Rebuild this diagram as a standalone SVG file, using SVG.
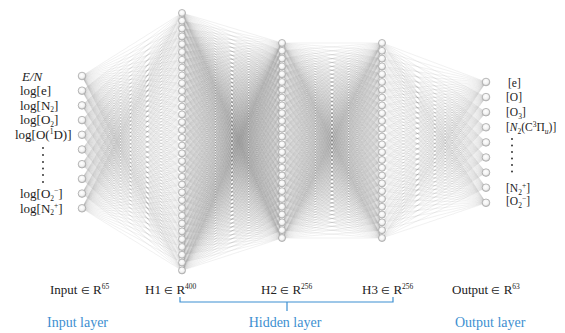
<svg xmlns="http://www.w3.org/2000/svg" xmlns:xlink="http://www.w3.org/1999/xlink" width="565" height="333" viewBox="0 0 565 333">
<style>
.ln{fill:none;stroke:#666;stroke-width:.6;stroke-opacity:.16;vector-effect:non-scaling-stroke}
.n{fill:url(#ng);stroke:#a8a8a8;stroke-width:.8}
.t{font-family:"Liberation Serif","Times New Roman",serif;font-size:13px;fill:#222}
.r{font-family:"Liberation Serif","Times New Roman",serif;font-size:11.5px;fill:#222}
.b{font-family:"Liberation Serif","Times New Roman",serif;font-size:13px;fill:#222}
.bl{font-family:"Liberation Serif","Times New Roman",serif;font-size:14px;fill:#3d8fd1}
.s{font-size:7.5px}
.i{font-style:italic}
.dot{fill:#222}
</style>
<defs>
<filter id="soft" x="0" y="0" width="1" height="1"><feGaussianBlur stdDeviation="0.4"/></filter>
<radialGradient id="ng" cx=".45" cy=".4" r=".6">
<stop offset="0" stop-color="#fff"/>
<stop offset=".6" stop-color="#f2f2f2"/>
<stop offset="1" stop-color="#c4c4c4"/>
</radialGradient>
<path id="f01" class="ln" d="M82 76 182 13M82 76 182 20.8M82 76 182 28.6M82 76 182 36.4M82 76 182 44.2M82 76 182 52M82 76 182 59.8M82 76 182 67.6M82 76 182 75.4M82 76 182 83.2M82 76 182 91M82 76 182 98.8M82 76 182 106.6M82 76 182 114.4M82 76 182 122.2M82 76 182 130M82 76 182 137.8M82 76 182 145.6M82 76 182 153.4M82 76 182 161.2M82 76 182 169M82 76 182 176.8M82 76 182 184.6M82 76 182 192.4M82 76 182 200.2M82 76 182 208M82 76 182 215.8M82 76 182 223.6M82 76 182 231.4M82 76 182 239.2M82 76 182 247M82 76 182 254.8M82 76 182 262.6M82 76 182 270.4"/>
<path id="f12" class="ln" d="M282 43 182 13M282 43 182 20.8M282 43 182 28.6M282 43 182 36.4M282 43 182 44.2M282 43 182 52M282 43 182 59.8M282 43 182 67.6M282 43 182 75.4M282 43 182 83.2M282 43 182 91M282 43 182 98.8M282 43 182 106.6M282 43 182 114.4M282 43 182 122.2M282 43 182 130M282 43 182 137.8M282 43 182 145.6M282 43 182 153.4M282 43 182 161.2M282 43 182 169M282 43 182 176.8M282 43 182 184.6M282 43 182 192.4M282 43 182 200.2M282 43 182 208M282 43 182 215.8M282 43 182 223.6M282 43 182 231.4M282 43 182 239.2M282 43 182 247M282 43 182 254.8M282 43 182 262.6M282 43 182 270.4"/>
<path id="f23" class="ln" d="M382 43 282 43M382 43 282 50.8M382 43 282 58.6M382 43 282 66.4M382 43 282 74.2M382 43 282 82M382 43 282 89.8M382 43 282 97.6M382 43 282 105.4M382 43 282 113.2M382 43 282 121M382 43 282 128.8M382 43 282 136.6M382 43 282 144.4M382 43 282 152.2M382 43 282 160M382 43 282 167.8M382 43 282 175.6M382 43 282 183.4M382 43 282 191.2M382 43 282 199M382 43 282 206.8M382 43 282 214.6M382 43 282 222.4M382 43 282 230.2M382 43 282 238"/>
<path id="f34" class="ln" d="M486 82 382 43M486 82 382 50.8M486 82 382 58.6M486 82 382 66.4M486 82 382 74.2M486 82 382 82M486 82 382 89.8M486 82 382 97.6M486 82 382 105.4M486 82 382 113.2M486 82 382 121M486 82 382 128.8M486 82 382 136.6M486 82 382 144.4M486 82 382 152.2M486 82 382 160M486 82 382 167.8M486 82 382 175.6M486 82 382 183.4M486 82 382 191.2M486 82 382 199M486 82 382 206.8M486 82 382 214.6M486 82 382 222.4M486 82 382 230.2M486 82 382 238"/>
</defs>
<rect width="565" height="333" fill="#fff"/>
<g id="connectors" filter="url(#soft)">
<rect x="70" y="5" width="430" height="275" fill="none"/>
<g id="c01">
<use href="#f01"/>
<use href="#f01" transform="matrix(1,-0.147,0,1,0,26.754)"/>
<use href="#f01" transform="matrix(1,-0.294,0,1,0,53.508)"/>
<use href="#f01" transform="matrix(1,-0.441,0,1,0,80.262)"/>
<use href="#f01" transform="matrix(1,-0.588,0,1,0,107.016)"/>
<use href="#f01" transform="matrix(1,-0.735,0,1,0,133.77)"/>
<use href="#f01" transform="matrix(1,-0.882,0,1,0,160.524)"/>
<use href="#f01" transform="matrix(1,-1.029,0,1,0,187.278)"/>
<use href="#f01" transform="matrix(1,-1.176,0,1,0,214.032)"/>
<use href="#f01" transform="matrix(1,-1.323,0,1,0,240.786)"/>
</g>
<g id="c12">
<use href="#f12"/>
<use href="#f12" transform="matrix(1,0.078,0,1,0,-14.196)"/>
<use href="#f12" transform="matrix(1,0.156,0,1,0,-28.392)"/>
<use href="#f12" transform="matrix(1,0.234,0,1,0,-42.588)"/>
<use href="#f12" transform="matrix(1,0.312,0,1,0,-56.784)"/>
<use href="#f12" transform="matrix(1,0.39,0,1,0,-70.98)"/>
<use href="#f12" transform="matrix(1,0.468,0,1,0,-85.176)"/>
<use href="#f12" transform="matrix(1,0.546,0,1,0,-99.372)"/>
<use href="#f12" transform="matrix(1,0.624,0,1,0,-113.568)"/>
<use href="#f12" transform="matrix(1,0.702,0,1,0,-127.764)"/>
<use href="#f12" transform="matrix(1,0.78,0,1,0,-141.96)"/>
<use href="#f12" transform="matrix(1,0.858,0,1,0,-156.156)"/>
<use href="#f12" transform="matrix(1,0.936,0,1,0,-170.352)"/>
<use href="#f12" transform="matrix(1,1.014,0,1,0,-184.548)"/>
<use href="#f12" transform="matrix(1,1.092,0,1,0,-198.744)"/>
<use href="#f12" transform="matrix(1,1.17,0,1,0,-212.94)"/>
<use href="#f12" transform="matrix(1,1.248,0,1,0,-227.136)"/>
<use href="#f12" transform="matrix(1,1.326,0,1,0,-241.332)"/>
<use href="#f12" transform="matrix(1,1.404,0,1,0,-255.528)"/>
<use href="#f12" transform="matrix(1,1.482,0,1,0,-269.724)"/>
<use href="#f12" transform="matrix(1,1.56,0,1,0,-283.92)"/>
<use href="#f12" transform="matrix(1,1.638,0,1,0,-298.116)"/>
<use href="#f12" transform="matrix(1,1.716,0,1,0,-312.312)"/>
<use href="#f12" transform="matrix(1,1.794,0,1,0,-326.508)"/>
<use href="#f12" transform="matrix(1,1.872,0,1,0,-340.704)"/>
<use href="#f12" transform="matrix(1,1.95,0,1,0,-354.9)"/>
</g>
<g id="c23">
<use href="#f23"/>
<use href="#f23" transform="matrix(1,0.078,0,1,0,-21.996)"/>
<use href="#f23" transform="matrix(1,0.156,0,1,0,-43.992)"/>
<use href="#f23" transform="matrix(1,0.234,0,1,0,-65.988)"/>
<use href="#f23" transform="matrix(1,0.312,0,1,0,-87.984)"/>
<use href="#f23" transform="matrix(1,0.39,0,1,0,-109.98)"/>
<use href="#f23" transform="matrix(1,0.468,0,1,0,-131.976)"/>
<use href="#f23" transform="matrix(1,0.546,0,1,0,-153.972)"/>
<use href="#f23" transform="matrix(1,0.624,0,1,0,-175.968)"/>
<use href="#f23" transform="matrix(1,0.702,0,1,0,-197.964)"/>
<use href="#f23" transform="matrix(1,0.78,0,1,0,-219.96)"/>
<use href="#f23" transform="matrix(1,0.858,0,1,0,-241.956)"/>
<use href="#f23" transform="matrix(1,0.936,0,1,0,-263.952)"/>
<use href="#f23" transform="matrix(1,1.014,0,1,0,-285.948)"/>
<use href="#f23" transform="matrix(1,1.092,0,1,0,-307.944)"/>
<use href="#f23" transform="matrix(1,1.17,0,1,0,-329.94)"/>
<use href="#f23" transform="matrix(1,1.248,0,1,0,-351.936)"/>
<use href="#f23" transform="matrix(1,1.326,0,1,0,-373.932)"/>
<use href="#f23" transform="matrix(1,1.404,0,1,0,-395.928)"/>
<use href="#f23" transform="matrix(1,1.482,0,1,0,-417.924)"/>
<use href="#f23" transform="matrix(1,1.56,0,1,0,-439.92)"/>
<use href="#f23" transform="matrix(1,1.638,0,1,0,-461.916)"/>
<use href="#f23" transform="matrix(1,1.716,0,1,0,-483.912)"/>
<use href="#f23" transform="matrix(1,1.794,0,1,0,-505.908)"/>
<use href="#f23" transform="matrix(1,1.872,0,1,0,-527.904)"/>
<use href="#f23" transform="matrix(1,1.95,0,1,0,-549.9)"/>
</g>
<g id="c34">
<use href="#f34"/>
<use href="#f34" transform="matrix(1,0.145192,0,1,0,-55.4635)"/>
<use href="#f34" transform="matrix(1,0.290385,0,1,0,-110.927)"/>
<use href="#f34" transform="matrix(1,0.435577,0,1,0,-166.3905)"/>
<use href="#f34" transform="matrix(1,0.580769,0,1,0,-221.854)"/>
<use href="#f34" transform="matrix(1,0.725962,0,1,0,-277.3175)"/>
<use href="#f34" transform="matrix(1,0.871154,0,1,0,-332.781)"/>
<use href="#f34" transform="matrix(1,1.016346,0,1,0,-388.2445)"/>
<use href="#f34" transform="matrix(1,1.161538,0,1,0,-443.708)"/>
</g>
</g>
<g id="input-layer">
<circle id="in1" class="n" cx="82" cy="76" r="3.8"/>
<circle id="in2" class="n" cx="82" cy="90.7" r="3.8"/>
<circle id="in3" class="n" cx="82" cy="105.4" r="3.8"/>
<circle id="in4" class="n" cx="82" cy="120.1" r="3.8"/>
<circle id="in5" class="n" cx="82" cy="134.8" r="3.8"/>
<circle id="in6" class="n" cx="82" cy="149.5" r="3.8"/>
<circle id="in7" class="n" cx="82" cy="164.2" r="3.8"/>
<circle id="in8" class="n" cx="82" cy="178.9" r="3.8"/>
<circle id="in9" class="n" cx="82" cy="193.6" r="3.8"/>
<circle id="in10" class="n" cx="82" cy="208.3" r="3.8"/>
</g>
<g id="h1-layer">
<circle id="h1-1" class="n" cx="182" cy="13" r="3.5"/>
<circle id="h1-2" class="n" cx="182" cy="20.8" r="3.5"/>
<circle id="h1-3" class="n" cx="182" cy="28.6" r="3.5"/>
<circle id="h1-4" class="n" cx="182" cy="36.4" r="3.5"/>
<circle id="h1-5" class="n" cx="182" cy="44.2" r="3.5"/>
<circle id="h1-6" class="n" cx="182" cy="52" r="3.5"/>
<circle id="h1-7" class="n" cx="182" cy="59.8" r="3.5"/>
<circle id="h1-8" class="n" cx="182" cy="67.6" r="3.5"/>
<circle id="h1-9" class="n" cx="182" cy="75.4" r="3.5"/>
<circle id="h1-10" class="n" cx="182" cy="83.2" r="3.5"/>
<circle id="h1-11" class="n" cx="182" cy="91" r="3.5"/>
<circle id="h1-12" class="n" cx="182" cy="98.8" r="3.5"/>
<circle id="h1-13" class="n" cx="182" cy="106.6" r="3.5"/>
<circle id="h1-14" class="n" cx="182" cy="114.4" r="3.5"/>
<circle id="h1-15" class="n" cx="182" cy="122.2" r="3.5"/>
<circle id="h1-16" class="n" cx="182" cy="130" r="3.5"/>
<circle id="h1-17" class="n" cx="182" cy="137.8" r="3.5"/>
<circle id="h1-18" class="n" cx="182" cy="145.6" r="3.5"/>
<circle id="h1-19" class="n" cx="182" cy="153.4" r="3.5"/>
<circle id="h1-20" class="n" cx="182" cy="161.2" r="3.5"/>
<circle id="h1-21" class="n" cx="182" cy="169" r="3.5"/>
<circle id="h1-22" class="n" cx="182" cy="176.8" r="3.5"/>
<circle id="h1-23" class="n" cx="182" cy="184.6" r="3.5"/>
<circle id="h1-24" class="n" cx="182" cy="192.4" r="3.5"/>
<circle id="h1-25" class="n" cx="182" cy="200.2" r="3.5"/>
<circle id="h1-26" class="n" cx="182" cy="208" r="3.5"/>
<circle id="h1-27" class="n" cx="182" cy="215.8" r="3.5"/>
<circle id="h1-28" class="n" cx="182" cy="223.6" r="3.5"/>
<circle id="h1-29" class="n" cx="182" cy="231.4" r="3.5"/>
<circle id="h1-30" class="n" cx="182" cy="239.2" r="3.5"/>
<circle id="h1-31" class="n" cx="182" cy="247" r="3.5"/>
<circle id="h1-32" class="n" cx="182" cy="254.8" r="3.5"/>
<circle id="h1-33" class="n" cx="182" cy="262.6" r="3.5"/>
<circle id="h1-34" class="n" cx="182" cy="270.4" r="3.5"/>
</g>
<g id="h2-layer">
<circle id="h2-1" class="n" cx="282" cy="43" r="3.5"/>
<circle id="h2-2" class="n" cx="282" cy="50.8" r="3.5"/>
<circle id="h2-3" class="n" cx="282" cy="58.6" r="3.5"/>
<circle id="h2-4" class="n" cx="282" cy="66.4" r="3.5"/>
<circle id="h2-5" class="n" cx="282" cy="74.2" r="3.5"/>
<circle id="h2-6" class="n" cx="282" cy="82" r="3.5"/>
<circle id="h2-7" class="n" cx="282" cy="89.8" r="3.5"/>
<circle id="h2-8" class="n" cx="282" cy="97.6" r="3.5"/>
<circle id="h2-9" class="n" cx="282" cy="105.4" r="3.5"/>
<circle id="h2-10" class="n" cx="282" cy="113.2" r="3.5"/>
<circle id="h2-11" class="n" cx="282" cy="121" r="3.5"/>
<circle id="h2-12" class="n" cx="282" cy="128.8" r="3.5"/>
<circle id="h2-13" class="n" cx="282" cy="136.6" r="3.5"/>
<circle id="h2-14" class="n" cx="282" cy="144.4" r="3.5"/>
<circle id="h2-15" class="n" cx="282" cy="152.2" r="3.5"/>
<circle id="h2-16" class="n" cx="282" cy="160" r="3.5"/>
<circle id="h2-17" class="n" cx="282" cy="167.8" r="3.5"/>
<circle id="h2-18" class="n" cx="282" cy="175.6" r="3.5"/>
<circle id="h2-19" class="n" cx="282" cy="183.4" r="3.5"/>
<circle id="h2-20" class="n" cx="282" cy="191.2" r="3.5"/>
<circle id="h2-21" class="n" cx="282" cy="199" r="3.5"/>
<circle id="h2-22" class="n" cx="282" cy="206.8" r="3.5"/>
<circle id="h2-23" class="n" cx="282" cy="214.6" r="3.5"/>
<circle id="h2-24" class="n" cx="282" cy="222.4" r="3.5"/>
<circle id="h2-25" class="n" cx="282" cy="230.2" r="3.5"/>
<circle id="h2-26" class="n" cx="282" cy="238" r="3.5"/>
</g>
<g id="h3-layer">
<circle id="h3-1" class="n" cx="382" cy="43" r="3.5"/>
<circle id="h3-2" class="n" cx="382" cy="50.8" r="3.5"/>
<circle id="h3-3" class="n" cx="382" cy="58.6" r="3.5"/>
<circle id="h3-4" class="n" cx="382" cy="66.4" r="3.5"/>
<circle id="h3-5" class="n" cx="382" cy="74.2" r="3.5"/>
<circle id="h3-6" class="n" cx="382" cy="82" r="3.5"/>
<circle id="h3-7" class="n" cx="382" cy="89.8" r="3.5"/>
<circle id="h3-8" class="n" cx="382" cy="97.6" r="3.5"/>
<circle id="h3-9" class="n" cx="382" cy="105.4" r="3.5"/>
<circle id="h3-10" class="n" cx="382" cy="113.2" r="3.5"/>
<circle id="h3-11" class="n" cx="382" cy="121" r="3.5"/>
<circle id="h3-12" class="n" cx="382" cy="128.8" r="3.5"/>
<circle id="h3-13" class="n" cx="382" cy="136.6" r="3.5"/>
<circle id="h3-14" class="n" cx="382" cy="144.4" r="3.5"/>
<circle id="h3-15" class="n" cx="382" cy="152.2" r="3.5"/>
<circle id="h3-16" class="n" cx="382" cy="160" r="3.5"/>
<circle id="h3-17" class="n" cx="382" cy="167.8" r="3.5"/>
<circle id="h3-18" class="n" cx="382" cy="175.6" r="3.5"/>
<circle id="h3-19" class="n" cx="382" cy="183.4" r="3.5"/>
<circle id="h3-20" class="n" cx="382" cy="191.2" r="3.5"/>
<circle id="h3-21" class="n" cx="382" cy="199" r="3.5"/>
<circle id="h3-22" class="n" cx="382" cy="206.8" r="3.5"/>
<circle id="h3-23" class="n" cx="382" cy="214.6" r="3.5"/>
<circle id="h3-24" class="n" cx="382" cy="222.4" r="3.5"/>
<circle id="h3-25" class="n" cx="382" cy="230.2" r="3.5"/>
<circle id="h3-26" class="n" cx="382" cy="238" r="3.5"/>
</g>
<g id="output-layer">
<circle id="out1" class="n" cx="486" cy="82" r="3.8"/>
<circle id="out2" class="n" cx="486" cy="97.1" r="3.8"/>
<circle id="out3" class="n" cx="486" cy="112.2" r="3.8"/>
<circle id="out4" class="n" cx="486" cy="127.3" r="3.8"/>
<circle id="out5" class="n" cx="486" cy="142.4" r="3.8"/>
<circle id="out6" class="n" cx="486" cy="157.5" r="3.8"/>
<circle id="out7" class="n" cx="486" cy="172.6" r="3.8"/>
<circle id="out8" class="n" cx="486" cy="187.7" r="3.8"/>
<circle id="out9" class="n" cx="486" cy="202.8" r="3.8"/>
</g>
<g id="input-labels">
<text class="t i" x="22" y="80.5">E/N</text>
<text class="t" x="20" y="95">log[e]</text>
<text class="t" x="20" y="109.5">log[N<tspan class="s" dy="2.5">2</tspan><tspan dy="-2.5">]</tspan></text>
<text class="t" x="20" y="124">log[O<tspan class="s" dy="2.5">2</tspan><tspan dy="-2.5">]</tspan></text>
<text class="t" x="15" y="139">log[O(<tspan class="s" dy="-5">1</tspan><tspan dy="5">D)]</tspan></text>
<circle class="dot" cx="43" cy="148" r="0.9"/>
<circle class="dot" cx="43" cy="155" r="0.9"/>
<circle class="dot" cx="43" cy="162" r="0.9"/>
<circle class="dot" cx="43" cy="168.5" r="0.9"/>
<circle class="dot" cx="43" cy="175" r="0.9"/>
<circle class="dot" cx="43" cy="182" r="0.9"/>
<text class="t" x="20" y="198">log[O<tspan class="s" dy="2.5">2</tspan><tspan class="s" dy="-7.5">−</tspan><tspan dy="5">]</tspan></text>
<text class="t" x="20" y="212.5">log[N<tspan class="s" dy="2.5">2</tspan><tspan class="s" dy="-7.5">+</tspan><tspan dy="5">]</tspan></text>
</g>
<g id="output-labels">
<text class="r" x="508" y="87">[e]</text>
<text class="r" x="506" y="101">[O]</text>
<text class="r" x="506" y="116">[O<tspan class="s" dy="2.5">3</tspan><tspan dy="-2.5">]</tspan></text>
<text class="r" x="506" y="131">[<tspan class="i">N</tspan><tspan class="s" dy="2.5">2</tspan><tspan dy="-2.5">(C</tspan><tspan class="s" dy="-4.5">3</tspan><tspan dy="4.5">Π</tspan><tspan class="s i" dy="2.5">u</tspan><tspan dy="-2.5">)]</tspan></text>
<circle class="dot" cx="512" cy="139" r="0.9"/>
<circle class="dot" cx="512" cy="145.5" r="0.9"/>
<circle class="dot" cx="512" cy="152" r="0.9"/>
<circle class="dot" cx="512" cy="158.5" r="0.9"/>
<circle class="dot" cx="512" cy="165" r="0.9"/>
<circle class="dot" cx="512" cy="171.5" r="0.9"/>
<text class="r" x="506" y="192">[N<tspan class="s" dy="2.5">2</tspan><tspan class="s" dy="-7">+</tspan><tspan dy="4.5">]</tspan></text>
<text class="r" x="506" y="205">[O<tspan class="s" dy="2.5">2</tspan><tspan class="s" dy="-7">−</tspan><tspan dy="4.5">]</tspan></text>
</g>
<g id="dims">
<text class="b" x="50" y="294">Input <tspan font-size="10">∈</tspan> R<tspan class="s" dy="-5">65</tspan></text>
<text class="b" x="145" y="294">H1 <tspan font-size="10">∈</tspan> R<tspan class="s" dy="-5">400</tspan></text>
<text class="b" x="261" y="294">H2 <tspan font-size="10">∈</tspan> R<tspan class="s" dy="-5">256</tspan></text>
<text class="b" x="362" y="294">H3 <tspan font-size="10">∈</tspan> R<tspan class="s" dy="-5">256</tspan></text>
<text class="b" x="452" y="294">Output <tspan font-size="10">∈</tspan> R<tspan class="s" dy="-5">63</tspan></text>
</g>
<g id="layer-names">
<path d="M180 297V302H393V297M287 302V311" fill="none" stroke="#3d8fd1" stroke-width="1.2"/>
<text class="bl" x="47" y="327">Input layer</text>
<text class="bl" x="285" y="327" text-anchor="middle">Hidden layer</text>
<text class="bl" x="455" y="327">Output layer</text>
</g>
</svg>
